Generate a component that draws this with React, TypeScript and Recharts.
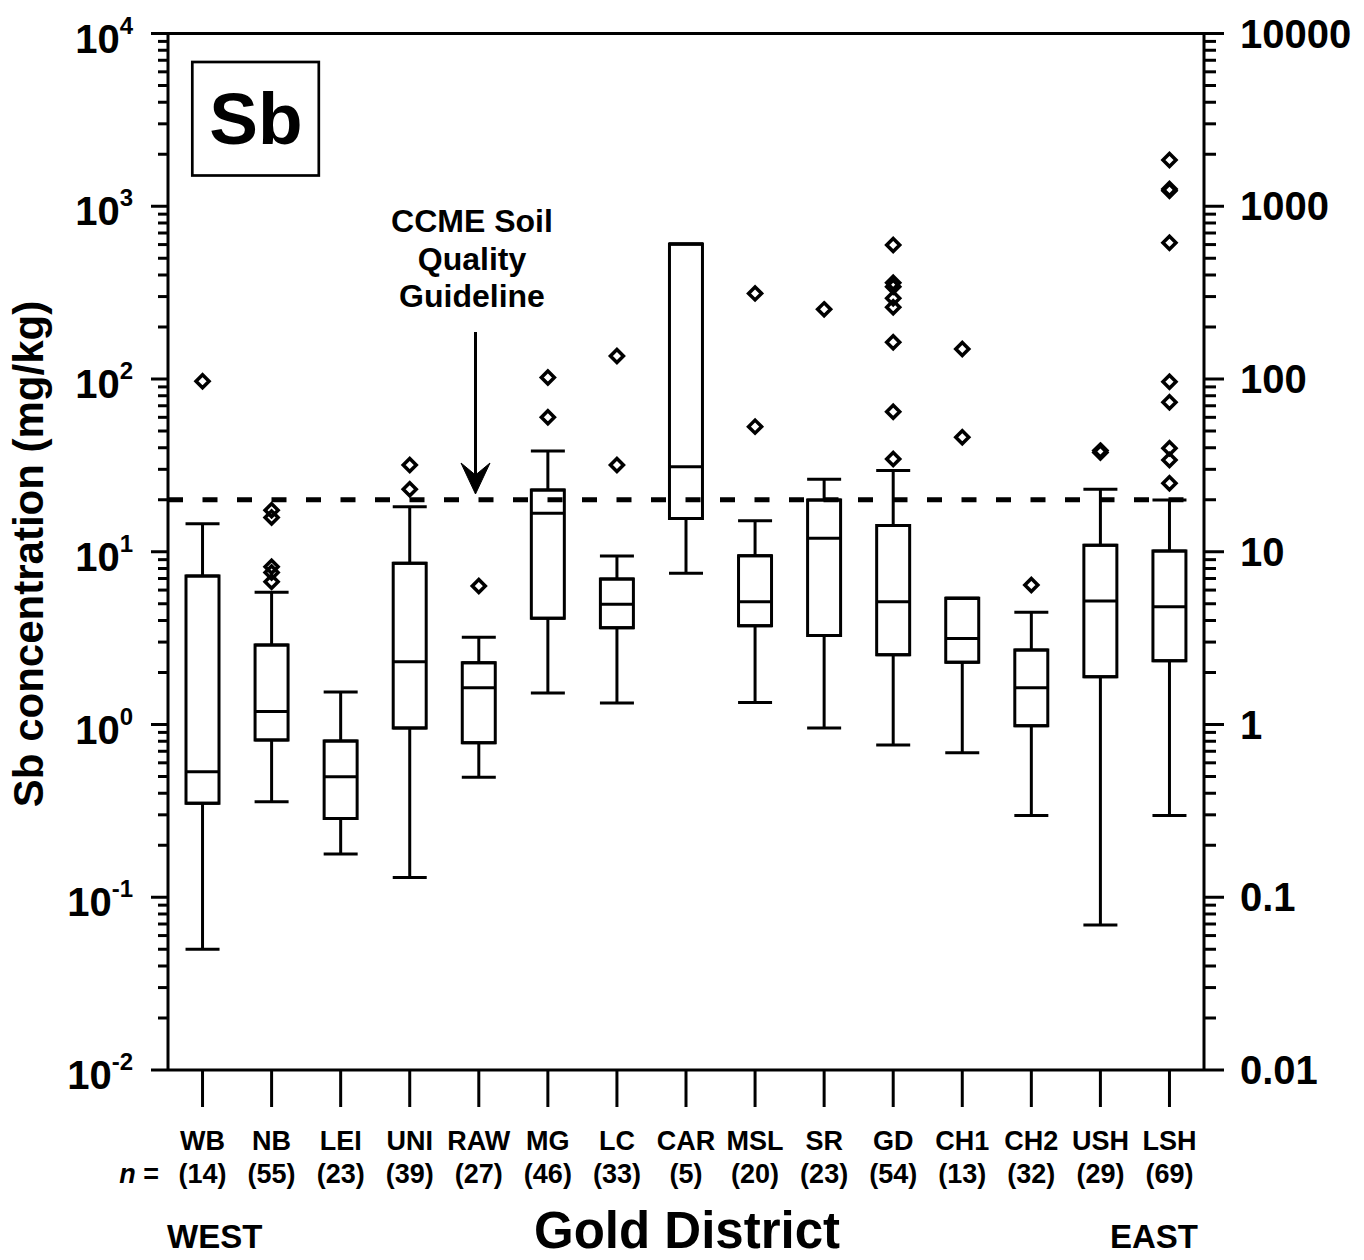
import React from 'react';
import { ComposedChart, Bar, Scatter, ErrorBar, XAxis, YAxis, ReferenceLine } from 'recharts';

// ---------- data ----------
const districts = ['WB', 'NB', 'LEI', 'UNI', 'RAW', 'MG', 'LC', 'CAR', 'MSL', 'SR', 'GD', 'CH1', 'CH2', 'USH', 'LSH'];
const sampleCounts = [14, 55, 23, 39, 27, 46, 33, 5, 20, 23, 54, 13, 32, 29, 69];
const whiskerLow = [0.05, 0.357, 0.178, 0.13, 0.495, 1.52, 1.33, 7.5, 1.34, 0.955, 0.76, 0.687, 0.297, 0.069, 0.297];
const quartile1 = [0.35, 0.813, 0.286, 0.955, 0.785, 4.12, 3.63, 15.6, 3.73, 3.27, 2.53, 2.29, 0.984, 1.89, 2.34];
const medians = [0.533, 1.19, 0.499, 2.31, 1.63, 16.7, 4.96, 31.1, 5.14, 11.97, 5.14, 3.15, 1.63, 5.19, 4.81];
const quartile3 = [7.24, 2.89, 0.803, 8.57, 2.28, 22.8, 6.95, 604, 9.48, 19.9, 14.2, 5.38, 2.7, 10.9, 10.1];
const whiskerHigh = [14.5, 5.82, 1.54, 18.2, 3.2, 38.3, 9.45, 604, 15.1, 26.3, 29.5, 5.38, 4.46, 23.0, 19.9];
const outliers = [
  [97],
  [17.4, 15.8, 8.19, 7.59, 6.71],
  [],
  [31.8, 23.0],
  [6.34],
  [102, 60],
  [136, 31.8],
  [],
  [313, 53],
  [253],
  [597, 361, 342, 293, 260, 163, 64.7, 34.4],
  [149, 46],
  [6.42],
  [38.5, 37.5],
  [1853, 1260, 1230, 615, 96.5, 73.3, 39.7, 34.0, 24.9],
];
const guideline = 20;
const majorTicks = [0.01, 0.1, 1, 10, 100, 1000, 10000];
const leftExponents = ['-2', '-1', '0', '1', '2', '3', '4'];
const rightTickLabels = ['0.01', '0.1', '1', '10', '100', '1000', '10000'];
const xTicks = districts.map((_, i) => i + 1);

// ---------- derived tables ----------
const rows = districts.map((name, i) => ({
  x: i + 1,
  name,
  box: [quartile1[i], quartile3[i]],
  q1: quartile1[i],
  q3: quartile3[i],
  median: medians[i],
  lowErr: [quartile1[i] - whiskerLow[i], 0],
  highErr: [0, whiskerHigh[i] - quartile3[i]],
}));
const outlierRows = outliers.flatMap((vals, i) => vals.map((v) => ({ x: i + 1, v })));

const minorTicks: number[] = [];
for (let k = 0; k < majorTicks.length - 1; k++) {
  for (let m = 2; m <= 9; m++) minorTicks.push(majorTicks[k] * m);
}
const allYTicks = [...majorTicks, ...minorTicks].sort((a, b) => a - b);

const FONT = "'Liberation Sans', Arial, Helvetica, sans-serif";

const LeftTick = (props: any) => {
  const { x, y, payload } = props;
  const idx = majorTicks.indexOf(payload.value);
  const major = idx >= 0;
  return (
    <g>
      <line x1={x - (major ? 17 : 10)} x2={x} y1={y} y2={y} stroke="#000" strokeWidth={3} />
      {major && (
        <text x={x - 35} y={y + 19} textAnchor="end" fontFamily={FONT} fontWeight="bold" fontSize={40} fill="#000">
          10
          <tspan dy={-19} fontSize={24}>{leftExponents[idx]}</tspan>
        </text>
      )}
    </g>
  );
};

const RightTick = (props: any) => {
  const { x, y, payload } = props;
  const idx = majorTicks.indexOf(payload.value);
  const major = idx >= 0;
  return (
    <g>
      <line x1={x} x2={x + (major ? 20 : 12)} y1={y} y2={y} stroke="#000" strokeWidth={3} />
      {major && (
        <text x={x + 36} y={y + 14} textAnchor="start" fontFamily={FONT} fontWeight="bold" fontSize={40} fill="#000">
          {rightTickLabels[idx]}
        </text>
      )}
    </g>
  );
};

const BottomTick = (props: any) => {
  const { x, y, payload } = props;
  const i = payload.value - 1;
  return (
    <g>
      <text x={x} y={y + 43} textAnchor="middle" fontFamily={FONT} fontWeight="bold" fontSize={27} fill="#000">
        {districts[i]}
      </text>
      <text x={x} y={y + 76} textAnchor="middle" fontFamily={FONT} fontWeight="bold" fontSize={27} fill="#000">
        ({sampleCounts[i]})
      </text>
    </g>
  );
};

const EmptyShape = () => <g />;

const MedianShape = (props: any) => {
  const { cx, cy } = props;
  return <line x1={cx - 16.5} x2={cx + 16.5} y1={cy} y2={cy} stroke="#000" strokeWidth={3} />;
};

const DiamondShape = (props: any) => {
  const { cx, cy } = props;
  const r = 6.5;
  return (
    <path
      d={`M${cx},${cy - r} L${cx + r},${cy} L${cx},${cy + r} L${cx - r},${cy} Z`}
      fill="none"
      stroke="#000"
      strokeWidth={3.5}
    />
  );
};

export default function App() {
  return (
    <div style={{ position: 'absolute', left: 0, top: 0, width: 1364, height: 1260, background: '#fff' }}>
      <ComposedChart
        width={1364}
        height={1260}
        data={rows}
        margin={{ top: 33.5, right: 0, bottom: 0, left: 0 }}
      >
        <XAxis
          xAxisId="x"
          type="number"
          dataKey="x"
          domain={[0.5, 15.5]}
          ticks={xTicks}
          interval={0}
          allowDataOverflow
          height={190}
          tickSize={37}
          tickMargin={0}
          tickLine={{ stroke: '#000', strokeWidth: 3 }}
          axisLine={{ stroke: '#000', strokeWidth: 3 }}
          tick={<BottomTick />}
        />
        <YAxis
          yAxisId="left"
          orientation="left"
          scale="log"
          type="number"
          domain={[0.01, 10000]}
          allowDataOverflow
          ticks={allYTicks}
          interval={0}
          width={168}
          tickSize={0}
          tickMargin={0}
          tickLine={false}
          axisLine={{ stroke: '#000', strokeWidth: 3 }}
          tick={<LeftTick />}
        />
        <YAxis
          yAxisId="right"
          orientation="right"
          scale="log"
          type="number"
          domain={[0.01, 10000]}
          allowDataOverflow
          ticks={allYTicks}
          interval={0}
          width={160}
          tickSize={0}
          tickMargin={0}
          tickLine={false}
          axisLine={{ stroke: '#000', strokeWidth: 3 }}
          tick={<RightTick />}
        />
        <ReferenceLine xAxisId="x" yAxisId="left" y={10000} stroke="#000" strokeWidth={3} />
        <ReferenceLine
          xAxisId="x"
          yAxisId="left"
          y={guideline}
          stroke="#000"
          strokeWidth={5}
          strokeDasharray="15 19.5"
        />
        <Scatter xAxisId="x" yAxisId="left" dataKey="q1" shape={EmptyShape} isAnimationActive={false}>
          <ErrorBar dataKey="lowErr" direction="y" width={17} stroke="#000" strokeWidth={3} isAnimationActive={false} />
        </Scatter>
        <Scatter xAxisId="x" yAxisId="left" dataKey="q3" shape={EmptyShape} isAnimationActive={false}>
          <ErrorBar dataKey="highErr" direction="y" width={17} stroke="#000" strokeWidth={3} isAnimationActive={false} />
        </Scatter>
        <Bar
          xAxisId="x"
          yAxisId="left"
          dataKey="box"
          barSize={33}
          fill="#fff"
          stroke="#000"
          strokeWidth={3}
          isAnimationActive={false}
        />
        <Scatter xAxisId="x" yAxisId="left" dataKey="median" shape={MedianShape} isAnimationActive={false} />
        <Scatter
          xAxisId="x"
          yAxisId="left"
          data={outlierRows}
          dataKey="v"
          shape={DiamondShape}
          isAnimationActive={false}
        />
      </ComposedChart>
      <svg
        width={1364}
        height={1260}
        style={{ position: 'absolute', left: 0, top: 0, pointerEvents: 'none' }}
      >
        <g fontFamily={FONT} fontWeight="bold" fill="#000">
          <rect x={192.3} y={62} width={126.5} height={113.5} fill="#fff" stroke="#000" strokeWidth={2.7} />
          <text x={256} y={143.5} textAnchor="middle" fontSize={73}>Sb</text>
          <text x={472} y={232} textAnchor="middle" fontSize={32}>CCME Soil</text>
          <text x={472} y={269.5} textAnchor="middle" fontSize={32}>Quality</text>
          <text x={472} y={307} textAnchor="middle" fontSize={32}>Guideline</text>
          <line x1={475.5} x2={475.5} y1={332} y2={478} stroke="#000" strokeWidth={3} />
          <path d="M475.5,494 L461,463 L475.5,475 L490,463 Z" fill="#000" stroke="#000" strokeWidth={1} />
          <text
            x={43}
            y={554}
            textAnchor="middle"
            fontSize={42}
            transform="rotate(-90 43 554)"
          >
            Sb concentration (mg/kg)
          </text>
          <text x={159} y={1183} textAnchor="end" fontSize={27}>
            <tspan fontStyle="italic">n</tspan> =
          </text>
          <text x={167} y={1248} textAnchor="start" fontSize={33}>WEST</text>
          <text x={1198} y={1248} textAnchor="end" fontSize={33}>EAST</text>
          <text x={687} y={1248} textAnchor="middle" fontSize={51}>Gold District</text>
        </g>
      </svg>
    </div>
  );
}
